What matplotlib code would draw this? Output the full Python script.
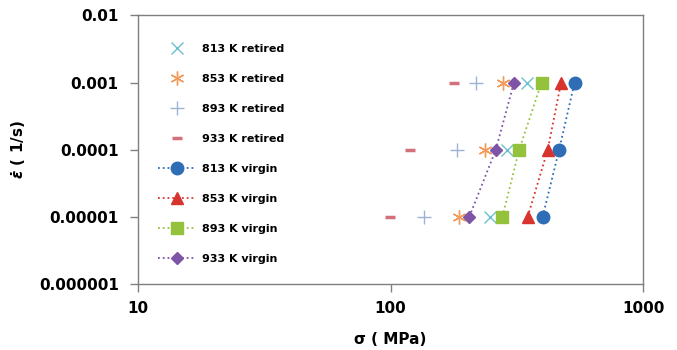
import numpy as np
import matplotlib.pyplot as plt

# strain rates (1/s)
rates = [1e-5, 1e-4, 1e-3]

# stress (MPa) at each strain rate
retired_813 = [248, 288, 346]
retired_853 = [187, 236, 278]
retired_893 = [135, 183, 217]
retired_933 = [99, 119, 178]

virgin_813 = [400, 465, 535]
virgin_853 = [349, 419, 473]
virgin_893 = [277, 323, 396]
virgin_933 = [205, 261, 308]

plt.rcParams['font.family'] = 'DejaVu Sans'
plt.rcParams['font.weight'] = 'bold'

fig = plt.figure(figsize=(6.77, 3.5), dpi=100)
ax = fig.add_axes([0.204, 0.189, 0.746, 0.767])

ax.plot(retired_813, rates, 'x', color='#6cc0cf', ms=9, mew=1.0, label='813 K retired')
ax.plot(retired_853, rates, marker=(6, 2, 0), ls='none', color='#f29b5c', ms=10, mew=1.0, label='853 K retired')
ax.plot(retired_893, rates, '+', color='#9db4d6', ms=10, mew=1.0, label='893 K retired')
ax.plot(retired_933, rates, '_', color='#d4707a', ms=7, mew=2.5, label='933 K retired')

ax.plot(virgin_813, rates, 'o', ls=':', lw=1.3, color='#2f6db5', ms=9, label='813 K virgin')
ax.plot(virgin_853, rates, '^', ls=':', lw=1.3, color='#d8342f', ms=9, label='853 K virgin')
ax.plot(virgin_893, rates, 's', ls=':', lw=1.3, color='#95c23c', ms=8, label='893 K virgin')
ax.plot(virgin_933, rates, 'D', ls=':', lw=1.3, color='#7e55a6', ms=6, label='933 K virgin')

ax.set_xscale('log')
ax.set_yscale('log')
ax.set_xlim(10, 1000)
ax.set_ylim(1e-6, 1e-2)
ax.set_xticks([10, 100, 1000])
ax.set_xticklabels(['10', '100', '1000'])
ax.set_yticks([1e-6, 1e-5, 1e-4, 1e-3, 1e-2])
ax.set_yticklabels(['0.000001', '0.00001', '0.0001', '0.001', '0.01'])
ax.minorticks_off()
ax.tick_params(axis='both', labelsize=11, length=6, width=1, color='#808080', direction='out')
ax.tick_params(axis='y', pad=8)
ax.tick_params(axis='x', pad=6)
for side in ax.spines:
    ax.spines[side].set_color('#7f7f7f')
    ax.spines[side].set_linewidth(1)

ax.set_xlabel('σ ( MPa)', fontsize=11, fontweight='bold', labelpad=12)
ax.set_ylabel(r'$\dot{\varepsilon}$ ( 1/s)', fontsize=11, fontweight='bold', labelpad=8)

leg = ax.legend(loc='upper left', bbox_to_anchor=(0.02, 0.93), frameon=False,
                fontsize=8, labelspacing=1.8, handlelength=3.3, handletextpad=0.6,
                numpoints=1)
for t in leg.get_texts():
    t.set_fontweight('bold')

fig.savefig('out.png', dpi=100)
